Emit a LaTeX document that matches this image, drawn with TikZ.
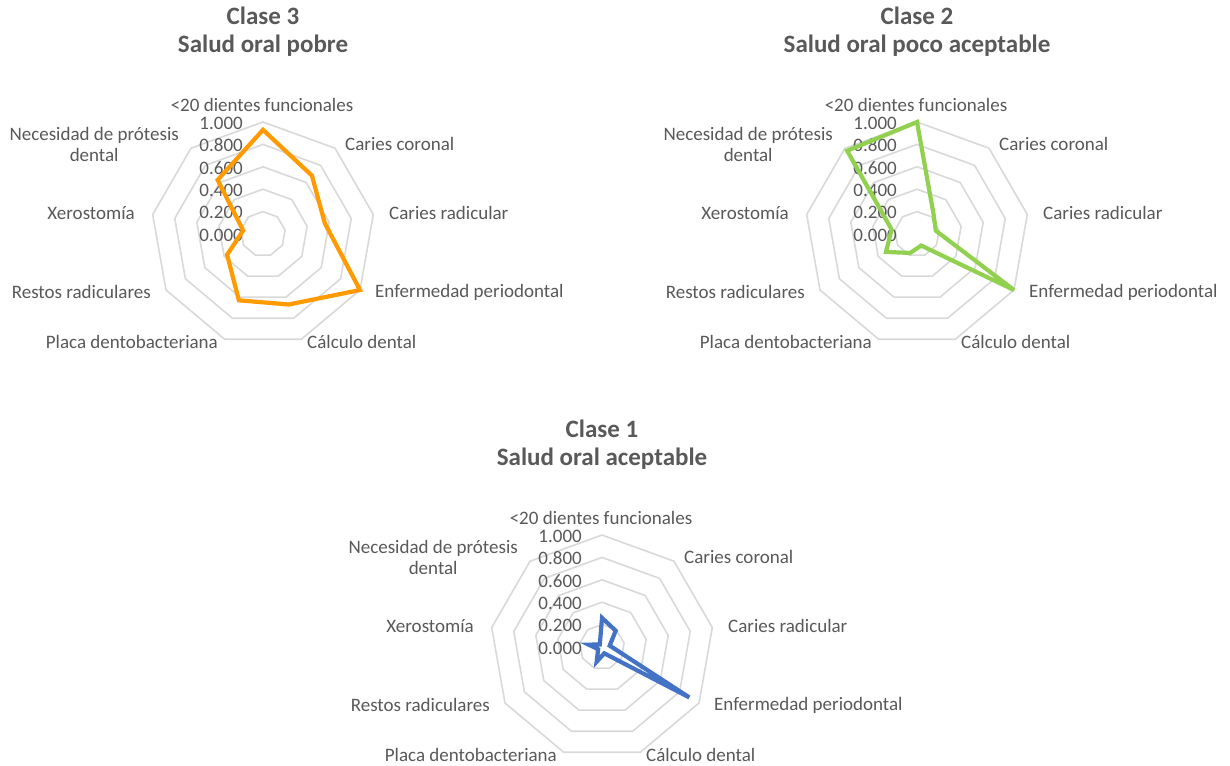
\documentclass[tikz,border=0pt]{standalone}
\usepackage{fontspec}
\setmainfont{Carlito}

\definecolor{txtgray}{HTML}{595959}
\definecolor{gridgray}{HTML}{D9D9D9}
\definecolor{serorange}{HTML}{FF9A00}
\definecolor{sergreen}{HTML}{92D050}
\definecolor{serblue}{HTML}{4472C4}

\tikzset{
  ring/.style={draw=gridgray, line width=1.6pt},
  series/.style={line width=4.2pt, line join=miter, miter limit=6},
  catlabel/.style={text=txtgray, font=\fontsize{19}{21}\selectfont, inner sep=0pt},
  vallabel/.style={text=txtgray, font=\fontsize{19}{21}\selectfont, inner sep=0pt, anchor=east},
  charttitle/.style={text=txtgray, font=\bfseries\fontsize{25}{28}\selectfont, inner sep=0pt, align=center},
}

% #1 name prefix, #2 centre x, #3 centre y (pixels, y downwards),
% #4 series colour, #5 nine values (clockwise from the top), #6 title
\newcommand{\radarchart}[6]{%
  % concentric nonagons at 0.2, 0.4, ..., 1.0
  \foreach \l in {1,...,5} {
    \draw[ring] ({#2}, {#3-22.4*\l})
      \foreach \k in {1,...,8} { -- ({#2+22.4*\l*cos(90-40*\k)}, {#3-22.4*\l*sin(90-40*\k)}) }
      -- cycle;
  }
  % value axis labels
  \foreach \i/\t in {0/0.000,1/0.200,2/0.400,3/0.600,4/0.800,5/1.000}
    \node[vallabel] (#1-v\i) at ({#2-20}, {#3-22.4*\i+1}) {\t};
  % category labels
  \node[catlabel, anchor=center] (#1-c0) at ({#2-1}, {#3-129}) {<20 dientes funcionales};
  \node[catlabel, anchor=west] (#1-c1) at ({#2+82}, {#3-90}) {Caries coronal};
  \node[catlabel, anchor=west] (#1-c2) at ({#2+126}, {#3-21}) {Caries radicular};
  \node[catlabel, anchor=west] (#1-c3) at ({#2+112}, {#3+58}) {Enfermedad periodontal};
  \node[catlabel, anchor=west] (#1-c4) at ({#2+44}, {#3+108}) {Cálculo dental};
  \node[catlabel, anchor=east] (#1-c5) at ({#2-45}, {#3+108}) {Placa dentobacteriana};
  \node[catlabel, anchor=east] (#1-c6) at ({#2-112}, {#3+58}) {Restos radiculares};
  \node[catlabel, anchor=east] (#1-c7) at ({#2-128}, {#3-21}) {Xerostomía};
  \node[catlabel, anchor=east, align=center] (#1-c8) at ({#2-84}, {#3-90}) {Necesidad de prótesis\\dental};
  % title
  \node[charttitle] (#1-title) at ({#2}, {#3-202}) {#6};
  % data series
  \foreach \v [count=\k from 0] in {#5}
    \coordinate (#1-p\k) at ({#2+112*\v*cos(90-40*\k)}, {#3-112*\v*sin(90-40*\k)});
  \draw[series, #4] (#1-p0) -- (#1-p1) -- (#1-p2) -- (#1-p3) -- (#1-p4)
    -- (#1-p5) -- (#1-p6) -- (#1-p7) -- (#1-p8) -- cycle;
}

\begin{document}
\begin{tikzpicture}[x=1pt, y=-1pt]
  \fill[white] (0,0) rectangle (1230,765);
  \useasboundingbox (0,0) rectangle (1230,765);

  \radarchart{poor}{263}{234}{serorange}
    {0.93,0.68,0.56,1.00,0.67,0.63,0.37,0.18,0.63}
    {Clase 3\\Salud oral pobre}

  \radarchart{fair}{917}{234}{sergreen}
    {1.00,0.23,0.17,1.00,0.11,0.18,0.32,0.23,0.97}
    {Clase 2\\Salud oral poco aceptable}

  \radarchart{good}{602}{647}{serblue}
    {0.26,0.19,0.07,0.90,0.06,0.14,0.04,0.12,0.03}
    {Clase 1\\Salud oral aceptable}
\end{tikzpicture}
\end{document}
